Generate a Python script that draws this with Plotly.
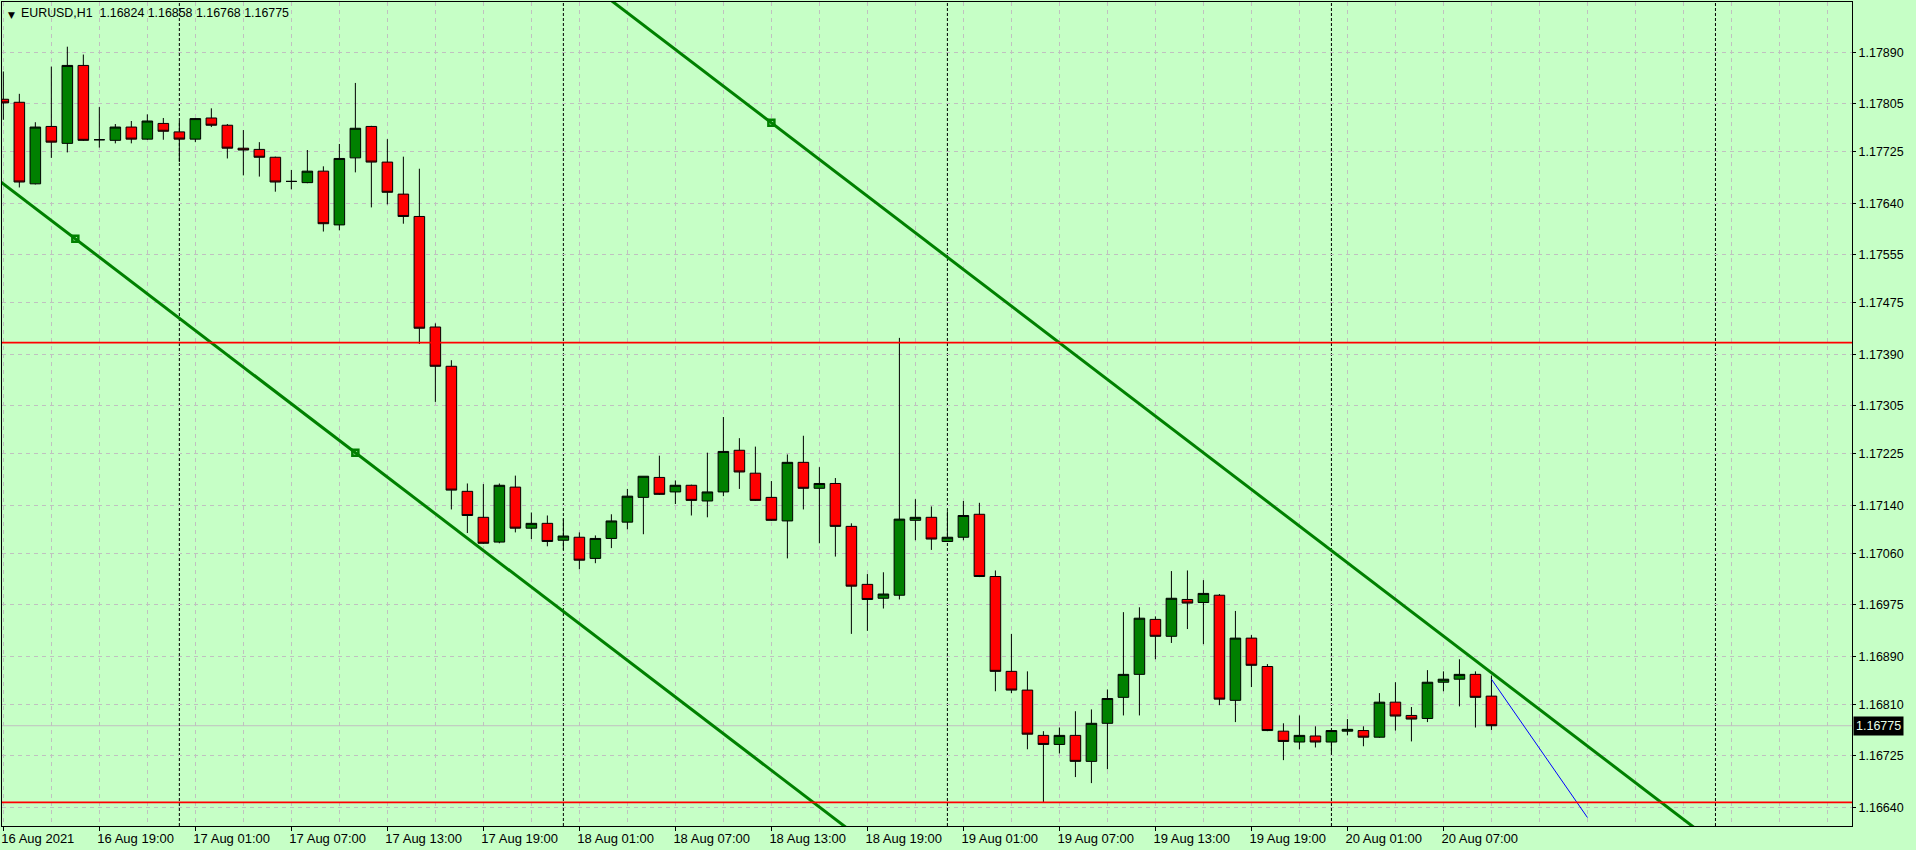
import pandas as pd
import plotly.graph_objects as go

# ── EURUSD H1 bars, 16 Aug 13:00 .. 20 Aug 10:00 ─────────────
open_ = [1.17812, 1.17807, 1.17672, 1.17767, 1.17739, 1.17868, 1.17745, 1.17744, 1.17766, 1.17746,
         1.17772, 1.17758, 1.17746, 1.17781, 1.17769, 1.17731, 1.17729, 1.17716, 1.17676, 1.17674,
         1.17693, 1.17604, 1.17715, 1.17767, 1.17708, 1.17655, 1.17618, 1.17435, 1.17370, 1.17163,
         1.17120, 1.17079, 1.17170, 1.17102, 1.17110, 1.17082, 1.17087, 1.17052, 1.17085, 1.17112,
         1.17153, 1.17186, 1.17162, 1.17173, 1.17147, 1.17162, 1.17231, 1.17193, 1.17153, 1.17114,
         1.17211, 1.17168, 1.17176, 1.17105, 1.17009, 1.16986, 1.16991, 1.17115, 1.17120, 1.17080,
         1.17087, 1.17125, 1.17022, 1.16865, 1.16834, 1.16759, 1.16744, 1.16759, 1.16716, 1.16779,
         1.16822, 1.16860, 1.16951, 1.16923, 1.16984, 1.16979, 1.16991, 1.16817, 1.16920, 1.16873,
         1.16766, 1.16748, 1.16758, 1.16748, 1.16766, 1.16767, 1.16756, 1.16814, 1.16792, 1.16787,
         1.16847, 1.16852, 1.16860, 1.16824]
high = [1.17858, 1.17821, 1.17774, 1.17866, 1.17899, 1.17886, 1.17799, 1.17771, 1.17776, 1.17787,
        1.17781, 1.17776, 1.17781, 1.17797, 1.17771, 1.17761, 1.17741, 1.17717, 1.17695, 1.17728,
        1.17701, 1.17738, 1.17839, 1.17768, 1.17746, 1.17717, 1.17697, 1.17441, 1.17380, 1.17176,
        1.17175, 1.17176, 1.17189, 1.17128, 1.17123, 1.17118, 1.17095, 1.17090, 1.17125, 1.17167,
        1.17188, 1.17222, 1.17181, 1.17174, 1.17227, 1.17286, 1.17251, 1.17237, 1.17180, 1.17224,
        1.17255, 1.17203, 1.17185, 1.17110, 1.17026, 1.17029, 1.17417, 1.17150, 1.17138, 1.17130,
        1.17147, 1.17144, 1.17032, 1.16927, 1.16865, 1.16766, 1.16772, 1.16799, 1.16802, 1.16835,
        1.16963, 1.16971, 1.16956, 1.17031, 1.17032, 1.17016, 1.16993, 1.16965, 1.16925, 1.16877,
        1.16779, 1.16792, 1.16774, 1.16768, 1.16786, 1.16774, 1.16829, 1.16847, 1.16806, 1.16867,
        1.16865, 1.16885, 1.16865, 1.16858]
low = [1.17778, 1.17666, 1.17671, 1.17715, 1.17724, 1.17743, 1.17732, 1.17739, 1.17739, 1.17745,
       1.17745, 1.17708, 1.17741, 1.17766, 1.17714, 1.17686, 1.17684, 1.17659, 1.17663, 1.17673,
       1.17593, 1.17595, 1.17691, 1.17633, 1.17638, 1.17606, 1.17407, 1.17311, 1.17133, 1.17094,
       1.17076, 1.17077, 1.17095, 1.17084, 1.17072, 1.17066, 1.17034, 1.17044, 1.17069, 1.17100,
       1.17092, 1.17157, 1.17142, 1.17123, 1.17120, 1.17155, 1.17167, 1.17147, 1.17114, 1.17052,
       1.17133, 1.17077, 1.17055, 1.16927, 1.16932, 1.16969, 1.16984, 1.17082, 1.17066, 1.17080,
       1.17082, 1.17021, 1.16832, 1.16829, 1.16736, 1.16648, 1.16729, 1.16690, 1.16680, 1.16703,
       1.16792, 1.16792, 1.16885, 1.16912, 1.16935, 1.16910, 1.16809, 1.16781, 1.16839, 1.16766,
       1.16718, 1.16736, 1.16739, 1.16728, 1.16759, 1.16741, 1.16755, 1.16767, 1.16749, 1.16781,
       1.16832, 1.16807, 1.16772, 1.16768]
close = [1.17806, 1.17675, 1.17766, 1.17741, 1.17868, 1.17744, 1.17745, 1.17766, 1.17746, 1.17776,
         1.17759, 1.17746, 1.17780, 1.17769, 1.17731, 1.17728, 1.17716, 1.17675, 1.17676, 1.17693,
         1.17606, 1.17714, 1.17764, 1.17708, 1.17658, 1.17618, 1.17433, 1.17370, 1.17165, 1.17123,
         1.17077, 1.17173, 1.17102, 1.17110, 1.17080, 1.17089, 1.17049, 1.17085, 1.17114, 1.17155,
         1.17188, 1.17158, 1.17173, 1.17148, 1.17162, 1.17229, 1.17195, 1.17148, 1.17115, 1.17211,
         1.17168, 1.17176, 1.17105, 1.17006, 1.16984, 1.16993, 1.17117, 1.17120, 1.17084, 1.17087,
         1.17123, 1.17022, 1.16865, 1.16834, 1.16761, 1.16744, 1.16759, 1.16716, 1.16779, 1.16820,
         1.16860, 1.16953, 1.16923, 1.16986, 1.16978, 1.16994, 1.16819, 1.16920, 1.16875, 1.16767,
         1.16749, 1.16759, 1.16748, 1.16767, 1.16769, 1.16756, 1.16814, 1.16791, 1.16786, 1.16847,
         1.16852, 1.16860, 1.16822, 1.16775]
times = pd.date_range("2021-08-16 13:00", periods=len(close), freq="h")

# axis labels
price_ticks = ["1.17890", "1.17805", "1.17725", "1.17640", "1.17555", "1.17475", "1.17390", "1.17305",
               "1.17225", "1.17140", "1.17060", "1.16975", "1.16890", "1.16810", "1.16725", "1.16640"]
time_ticks = ["2021-08-16 13:00", "2021-08-16 19:00", "2021-08-17 01:00", "2021-08-17 07:00",
              "2021-08-17 13:00", "2021-08-17 19:00", "2021-08-18 01:00", "2021-08-18 07:00",
              "2021-08-18 13:00", "2021-08-18 19:00", "2021-08-19 01:00", "2021-08-19 07:00",
              "2021-08-19 13:00", "2021-08-19 19:00", "2021-08-20 01:00", "2021-08-20 07:00"]
time_text = ["16 Aug 2021", "16 Aug 19:00", "17 Aug 01:00", "17 Aug 07:00", "17 Aug 13:00",
             "17 Aug 19:00", "18 Aug 01:00", "18 Aug 07:00", "18 Aug 13:00", "18 Aug 19:00",
             "19 Aug 01:00", "19 Aug 07:00", "19 Aug 13:00", "19 Aug 19:00", "20 Aug 01:00",
             "20 Aug 07:00"]
day_separators = ["2021-08-17", "2021-08-18", "2021-08-19", "2021-08-20", "2021-08-21"]

# objects drawn on the chart
hlines = [1.17409, 1.16648]
bid = close[-1]
channel_lo = [("2021-08-16 17:30", 1.17581), ("2021-08-17 11:00", 1.17227)]
channel_hi = ("2021-08-18 13:00", 1.17773)
blue_line = [("2021-08-20 10:00", 1.16852), ("2021-08-20 16:00", 1.16623)]

x_range = ["2021-08-16 12:55", "2021-08-21 08:32"]
y_range = [1.16609, 1.17973]

BG = "#c6ffc6"
GRID = "#c0c0c0"
FONT = "Liberation Sans"

fig = go.Figure()

fig.add_trace(go.Candlestick(
    x=times, open=open_, high=high, low=low, close=close,
    increasing=dict(line=dict(color="black", width=1), fillcolor="#008000"),
    decreasing=dict(line=dict(color="black", width=1), fillcolor="#ff0000"),
    whiskerwidth=0, hoverinfo="skip",
))

# ── equidistant channel (rays both ways) ─────────────
t0 = pd.Timestamp(channel_lo[0][0])
t1 = pd.Timestamp(channel_lo[1][0])
slope = (channel_lo[1][1] - channel_lo[0][1]) / ((t1 - t0) / pd.Timedelta(hours=1))
far_l = pd.Timestamp("2021-08-15 00:00")
far_r = pd.Timestamp("2021-08-23 00:00")


def ray(t_anchor, p_anchor):
    ta = pd.Timestamp(t_anchor)
    ys = [p_anchor + slope * ((t - ta) / pd.Timedelta(hours=1)) for t in (far_l, far_r)]
    return [far_l, far_r], ys


for t_a, p_a in [channel_lo[0], channel_hi]:
    xs, ys = ray(t_a, p_a)
    fig.add_trace(go.Scatter(x=xs, y=ys, mode="lines", line=dict(color="#008000", width=3),
                             hoverinfo="skip"))

anchors = channel_lo + [channel_hi]
fig.add_trace(go.Scatter(
    x=[a[0] for a in anchors], y=[a[1] for a in anchors], mode="markers",
    marker=dict(symbol="square-open", size=6, color="#008000", line=dict(width=2.5, color="#008000")),
    hoverinfo="skip",
))

fig.add_trace(go.Scatter(
    x=[b[0] for b in blue_line], y=[b[1] for b in blue_line], mode="lines",
    line=dict(color="#0000ff", width=1), hoverinfo="skip",
))

# ── horizontal lines, bid line, period separators ────
for lvl in hlines:
    fig.add_shape(type="line", xref="paper", x0=0, x1=1, yref="y", y0=lvl, y1=lvl,
                  line=dict(color="#ff0000", width=1.7), layer="above")

fig.add_shape(type="line", xref="paper", x0=0, x1=1, yref="y", y0=bid, y1=bid,
              line=dict(color="#c0c0c0", width=1), layer="below")

for d in day_separators:
    fig.add_shape(type="line", xref="x", x0=d, x1=d, yref="paper", y0=0, y1=1,
                  line=dict(color="black", width=1, dash="3px,2px"), layer="below")

# ── header + bid label ───────────────────────────────
fig.add_annotation(xref="paper", yref="paper", x=0, y=1, xanchor="left", yanchor="top",
                   xshift=4, yshift=-6, text="▼", showarrow=False,
                   font=dict(family="DejaVu Sans", size=9, color="black"))
fig.add_annotation(xref="paper", yref="paper", x=0, y=1, xanchor="left", yanchor="top",
                   xshift=17, yshift=-2, showarrow=False,
                   text=f"EURUSD,H1&nbsp;&nbsp;{open_[-1]:.5f} {high[-1]:.5f} {low[-1]:.5f} {close[-1]:.5f}",
                   font=dict(family=FONT, size=12.4, color="black"))
fig.add_annotation(xref="paper", yref="y", x=1, y=bid, xanchor="left", yanchor="middle",
                   xshift=1, text=f"{bid:.5f}", showarrow=False, bgcolor="black",
                   borderpad=2, font=dict(family=FONT, size=12.5, color="#e8ffe8"))

fig.update_layout(
    width=1916, height=850,
    margin=dict(l=2, r=64, t=2, b=24),
    paper_bgcolor=BG, plot_bgcolor=BG,
    showlegend=False,
    boxgap=0.34, boxgroupgap=0,
    font=dict(family=FONT, size=12.5, color="black"),
)
fig.update_xaxes(
    type="date", range=x_range, rangeslider_visible=False,
    tickmode="array", tickvals=time_ticks, ticktext=time_text,
    tickfont=dict(size=13),
    ticklabelposition="outside right", ticklabelshift=-3, ticklabeloverflow="allow",
    ticks="outside", ticklen=4, tickcolor="black",
    showline=True, linecolor="black", linewidth=1, mirror=True,
    showgrid=True, gridcolor=GRID, griddash="4px,4px", gridwidth=1,
    minor=dict(tickmode="linear", tick0="2021-08-16 13:00", dtick=3 * 3600 * 1000,
               showgrid=True, gridcolor=GRID, griddash="4px,4px", ticks=""),
    zeroline=False, automargin=False, fixedrange=True,
)
fig.update_yaxes(
    side="right", range=y_range,
    tickmode="array", tickvals=[float(v) for v in price_ticks], ticktext=price_ticks,
    ticks="outside", ticklen=3, tickcolor="black",
    showline=True, linecolor="black", linewidth=1, mirror=True,
    showgrid=True, gridcolor=GRID, griddash="4px,4px", gridwidth=1,
    zeroline=False, automargin=False, fixedrange=True,
)

# page body has a default 8px margin; drop it so the chart sits at the window corner
fig.write_html("out.html", config={"displayModeBar": False},
               post_script="document.body.style.margin='0px';")
